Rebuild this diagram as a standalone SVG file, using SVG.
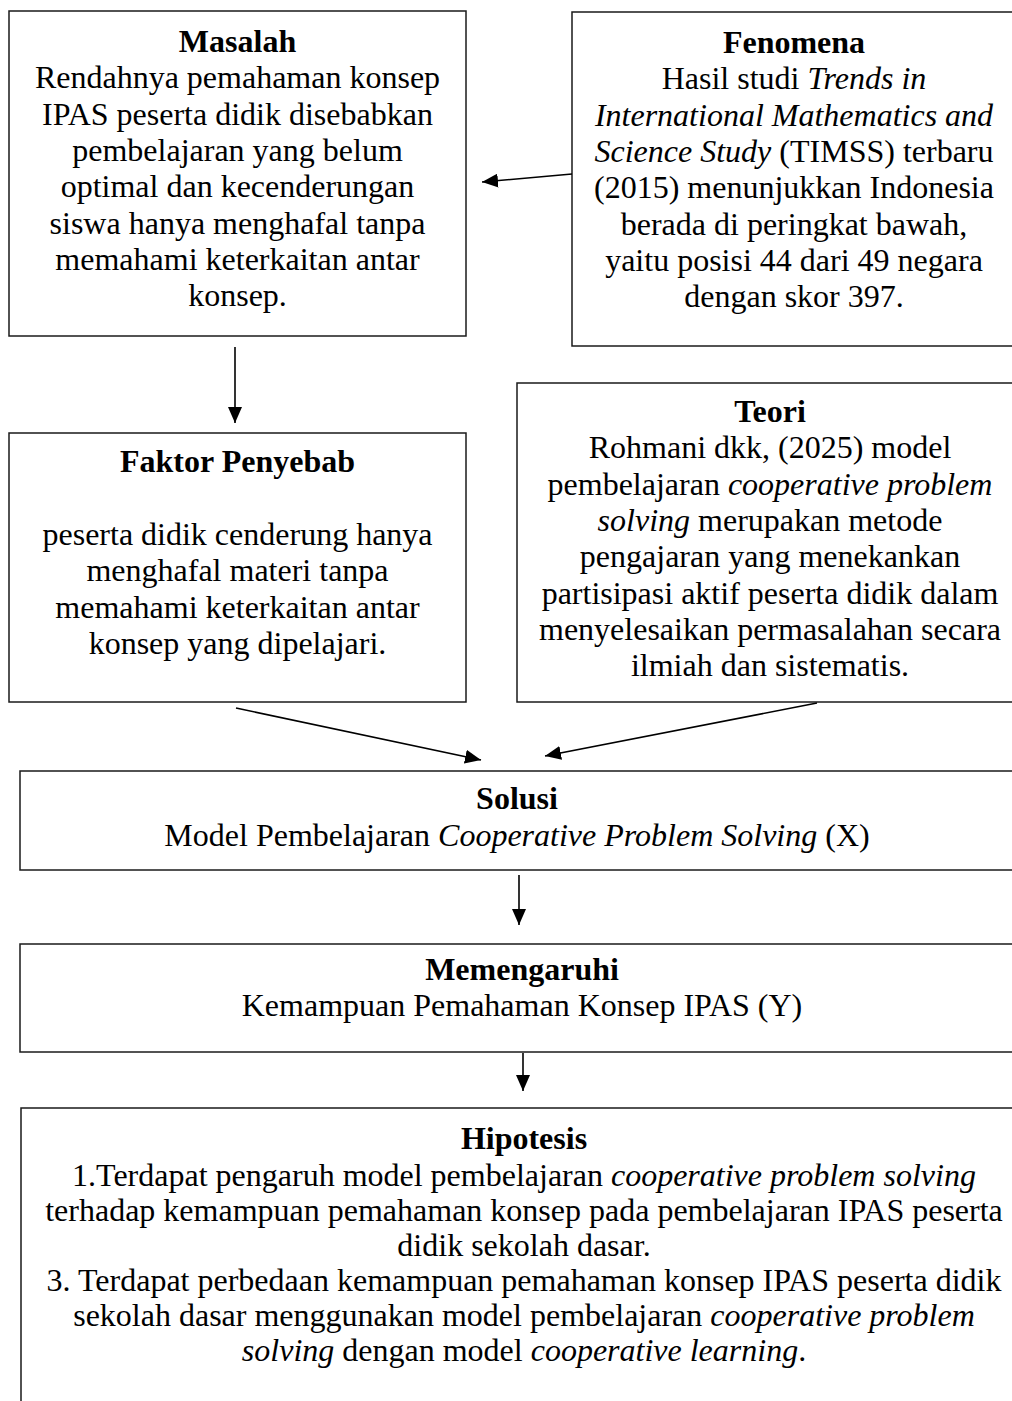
<svg xmlns="http://www.w3.org/2000/svg" width="1012" height="1401" viewBox="0 0 1012 1401">
<style>
.box{fill:#fff;stroke:#1a1a1a;stroke-width:1.5}
text{font-family:"Liberation Serif","Times New Roman",serif;font-size:32px;fill:#000;text-anchor:middle}
.b{font-weight:bold}
.i{font-style:italic}
.c{stroke:#000;stroke-width:1.6;fill:none;marker-end:url(#ah)}
</style>
<defs>
<marker id="ah" markerUnits="userSpaceOnUse" markerWidth="16" markerHeight="14" refX="16" refY="7" orient="auto">
<path d="M0,0 L16,7 L0,14 Z" fill="#000"/>
</marker>
</defs>
<rect width="1012" height="1401" fill="#fff"/>
<g id="masalah">
<rect class="box" x="9" y="11" width="457" height="325"/>
<text x="237.5" y="52" class="b">Masalah</text>
<text x="237.5" y="88.3">Rendahnya pemahaman konsep</text>
<text x="237.5" y="124.6">IPAS peserta didik disebabkan</text>
<text x="237.5" y="160.9">pembelajaran yang belum</text>
<text x="237.5" y="197.2">optimal dan kecenderungan</text>
<text x="237.5" y="233.5">siswa hanya menghafal tanpa</text>
<text x="237.5" y="269.8">memahami keterkaitan antar</text>
<text x="237.5" y="306.1">konsep.</text>
</g>
<g id="fenomena">
<rect class="box" x="572" y="12" width="444" height="334"/>
<text x="794" y="53" class="b">Fenomena</text>
<text x="794" y="89.3">Hasil studi <tspan class="i">Trends in</tspan></text>
<text x="794" y="125.6" class="i">International Mathematics and</text>
<text x="794" y="161.9"><tspan class="i">Science Study</tspan> (TIMSS) terbaru</text>
<text x="794" y="198.2">(2015) menunjukkan Indonesia</text>
<text x="794" y="234.5">berada di peringkat bawah,</text>
<text x="794" y="270.8">yaitu posisi 44 dari 49 negara</text>
<text x="794" y="307.1">dengan skor 397.</text>
</g>
<g id="faktor">
<rect class="box" x="9" y="433" width="457" height="269"/>
<text x="237.5" y="472" class="b">Faktor Penyebab</text>
<text x="237.5" y="545">peserta didik cenderung hanya</text>
<text x="237.5" y="581.3">menghafal materi tanpa</text>
<text x="237.5" y="617.6">memahami keterkaitan antar</text>
<text x="237.5" y="653.9">konsep yang dipelajari.</text>
</g>
<g id="teori">
<rect class="box" x="517" y="383" width="506" height="319"/>
<text x="770" y="422" class="b">Teori</text>
<text x="770" y="458.3">Rohmani dkk, (2025) model</text>
<text x="770" y="494.6">pembelajaran <tspan class="i">cooperative problem</tspan></text>
<text x="770" y="530.9"><tspan class="i">solving</tspan> merupakan metode</text>
<text x="770" y="567.2">pengajaran yang menekankan</text>
<text x="770" y="603.5">partisipasi aktif peserta didik dalam</text>
<text x="770" y="639.8">menyelesaikan permasalahan secara</text>
<text x="770" y="676.1">ilmiah dan sistematis.</text>
</g>
<g id="solusi">
<rect class="box" x="20" y="771" width="1000" height="99"/>
<text x="517" y="809" class="b">Solusi</text>
<text x="517" y="845.5">Model Pembelajaran <tspan class="i">Cooperative Problem Solving</tspan> (X)</text>
</g>
<g id="memengaruhi">
<rect class="box" x="20" y="944" width="1010" height="108"/>
<text x="522" y="980" class="b">Memengaruhi</text>
<text x="522" y="1016">Kemampuan Pemahaman Konsep IPAS (Y)</text>
</g>
<g id="hipotesis">
<rect class="box" x="21" y="1108" width="1010" height="310"/>
<text x="524" y="1149" class="b">Hipotesis</text>
<text x="524" y="1186">1.Terdapat pengaruh model pembelajaran <tspan class="i">cooperative problem solving</tspan></text>
<text x="524" y="1221">terhadap kemampuan pemahaman konsep pada pembelajaran IPAS peserta</text>
<text x="524" y="1256">didik sekolah dasar.</text>
<text x="524" y="1291">3. Terdapat perbedaan kemampuan pemahaman konsep IPAS peserta didik</text>
<text x="524" y="1326">sekolah dasar menggunakan model pembelajaran <tspan class="i">cooperative problem</tspan></text>
<text x="524" y="1361"><tspan class="i">solving</tspan> dengan model <tspan class="i">cooperative learning</tspan>.</text>
</g>
<g id="connectors">
<line class="c" x1="572" y1="174" x2="482" y2="182"/>
<line class="c" x1="235" y1="347" x2="235" y2="423"/>
<line class="c" x1="236" y1="708" x2="481" y2="760"/>
<line class="c" x1="817" y1="703" x2="545" y2="756"/>
<line class="c" x1="519" y1="875" x2="519" y2="925"/>
<line class="c" x1="523" y1="1053" x2="523" y2="1091"/>
</g>
</svg>
